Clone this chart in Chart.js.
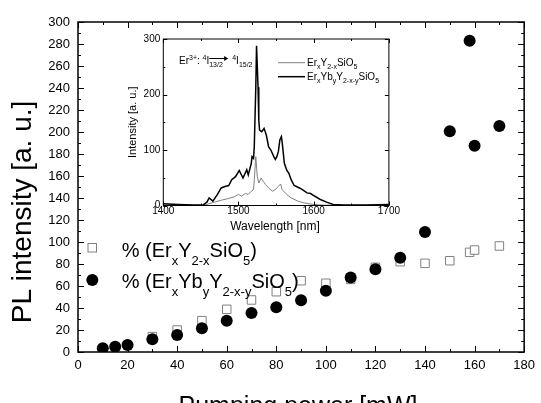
<!DOCTYPE html>
<html>
<head>
<meta charset="utf-8">
<script src="https://cdn.jsdelivr.net/npm/chart.js@4.4.0/dist/chart.umd.min.js"></script>
<style>
  body { margin: 0; background: #fff; }
  #wrap { position: relative; width: 541px; height: 403px; overflow: hidden; }
  #mainChart { position: absolute; left: 0; top: 0; }
  #insetChart { position: absolute; left: 110px; top: 30px; }
</style>
</head>
<body>
<div id="wrap">
  <canvas id="mainChart" width="541" height="403"></canvas>
  <canvas id="insetChart" width="290" height="240"></canvas>
</div>
<script>
// Main data: PL intensity vs pumping power
const powerErY = [30, 40, 50, 60, 70, 80, 90, 100, 110, 120, 130, 140, 150, 158, 160, 170];
const intensityErY = [14, 20, 28.5, 38.8, 47.3, 54.8, 64.8, 62.5, 66, 77, 82.1, 80.6, 83, 90.6, 92.7, 96.4];
const powerErYb = [10, 15, 20, 30, 40, 50, 60, 70, 80, 90, 100, 110, 120, 130, 140, 150, 158, 160, 170];
const intensityErYb = [3.4, 4.8, 6.4, 11.5, 15.5, 21.5, 28.5, 35.5, 40.6, 47, 55.6, 67.7, 75.2, 85.6, 109, 200.6, 283, 187.6, 205.5];
const powerTicks = [0, 20, 40, 60, 80, 100, 120, 140, 160, 180];
const intensityTicks = [0, 20, 40, 60, 80, 100, 120, 140, 160, 180, 200, 220, 240, 260, 280, 300];

// Inset data: PL spectra
const wlErYb = [1400, 1420, 1440, 1453, 1458, 1461, 1466, 1472, 1477, 1483, 1487, 1491, 1496, 1501, 1504, 1506, 1511, 1513, 1517, 1518, 1520, 1521, 1523, 1524, 1526, 1527, 1528, 1531, 1534, 1537, 1540, 1543, 1547, 1549, 1551, 1553, 1555, 1557, 1558, 1561, 1564, 1567, 1570, 1574, 1581, 1585, 1591, 1596, 1600, 1609, 1617, 1626, 1640, 1670, 1700];
const specErYb = [3, 2, 1, 1, 6, 13.7, 8, 20, 31.6, 34.6, 36, 46.5, 52, 63, 55, 49.5, 64.4, 55, 76, 88, 85, 106, 213, 288, 213, 154, 136, 133, 139, 127, 106, 100, 88, 83, 88, 97, 118, 124, 115, 76, 64, 58, 46.5, 36, 31.6, 28.6, 22.7, 21.5, 18, 10.7, 6, 2, 1, 1, 2];
const wlErY = [1400, 1455, 1460, 1468, 1477, 1485, 1494, 1500, 1504, 1509, 1513, 1517, 1520, 1521, 1523, 1525, 1527, 1530, 1533, 1536, 1540, 1545, 1549, 1553, 1556, 1558, 1564, 1570, 1579, 1587, 1600, 1613, 1630, 1700];
const specErY = [0.5, 0.5, 3, 6, 9.5, 12, 15.5, 20, 17, 21.5, 20, 25.6, 28.6, 46.5, 88, 52, 40.5, 49.5, 43.5, 37.6, 31.6, 25.6, 28.6, 34.6, 38.8, 28.6, 20, 13.7, 7.8, 4.8, 1.8, 0.6, 0.3, 0.3];
const wlTicks = [1400, 1500, 1600, 1700];
const specTicks = [0, 100, 200, 300];

const FONT = "'Liberation Sans', Arial, sans-serif";
Chart.defaults.font.family = FONT;
Chart.defaults.color = '#000';

function toXY(xs, ys) {
    return xs.map((x, i) => ({ x: x, y: ys[i] }));
}

function fixedTicks(values) {
    return function(scale) {
        scale.ticks = values.map(v => ({ value: v }));
    };
}

const plainLabel = v => String(v);

// text with sub/superscripts, parts = [[text, 'n'|'sub'|'sup'], ...]
function drawRich(ctx, x, y, parts, size, smallSize, subDy, supDy) {
    parts.forEach(([text, kind]) => {
        ctx.font = (kind === 'n' ? size : smallSize) + 'px ' + FONT;
        const dy = kind === 'sub' ? subDy : (kind === 'sup' ? -supDy : 0);
        ctx.fillText(text, x, y + dy);
        x += ctx.measureText(text).width;
    });
    return x;
}

// frame plus inward ticks on all four sides
function drawFrame(chart, o) {
    const ctx = chart.ctx;
    const { left, right, top, bottom } = chart.chartArea;
    const xs = chart.scales.x, ys = chart.scales.y;
    ctx.save();
    ctx.strokeStyle = '#000';
    ctx.lineWidth = 1;
    ctx.beginPath();
    for (let v = xs.min; v <= xs.max + 1e-6; v += o.xMinor) {
        const px = Math.round(xs.getPixelForValue(v)) + 0.5;
        const len = Math.abs(v % o.xMajor) < 1e-6 ? o.major : o.minor;
        ctx.moveTo(px, bottom); ctx.lineTo(px, bottom - len);
        ctx.moveTo(px, top); ctx.lineTo(px, top + len);
    }
    for (let v = ys.min; v <= ys.max + 1e-6; v += o.yMinor) {
        const py = Math.round(ys.getPixelForValue(v)) + 0.5;
        const len = Math.abs(v % o.yMajor) < 1e-6 ? o.major : o.minor;
        ctx.moveTo(left, py); ctx.lineTo(left + len, py);
        ctx.moveTo(right, py); ctx.lineTo(right - len, py);
    }
    ctx.stroke();
    ctx.lineWidth = o.frameWidth;
    ctx.strokeRect(left, top, right - left, bottom - top);
    ctx.restore();
}

const mainDecor = {
    id: 'mainDecor',
    afterDraw(chart) {
        const ctx = chart.ctx;
        drawFrame(chart, { xMajor: 20, xMinor: 10, yMajor: 20, yMinor: 10, major: 6, minor: 3, frameWidth: 1.5 });

        ctx.save();
        ctx.fillStyle = '#000';
        ctx.textBaseline = 'alphabetic';

        // axis titles
        ctx.font = '25px ' + FONT;
        ctx.textAlign = 'center';
        ctx.fillText('Pumping power [mW]', 298, 414);
        ctx.save();
        ctx.translate(31, 212);
        ctx.rotate(-Math.PI / 2);
        ctx.font = '28px ' + FONT;
        ctx.fillText('PL intensity [a. u.]', 0, 0);
        ctx.restore();

        // legend
        ctx.textAlign = 'left';
        ctx.strokeStyle = '#808080';
        ctx.lineWidth = 1;
        ctx.fillStyle = '#fff';
        ctx.fillRect(88, 243.5, 8.5, 8.5);
        ctx.strokeRect(88, 243.5, 8.5, 8.5);
        ctx.fillStyle = '#000';
        ctx.beginPath();
        ctx.arc(92.3, 280, 6, 0, Math.PI * 2);
        ctx.fill();

        drawRich(ctx, 121.7, 256.7, [['% (Er', 'n'], ['x', 'sub'], ['Y', 'n'], ['2-x', 'sub'], ['SiO', 'n'], ['5', 'sub'], [')', 'n']], 20, 13, 8, 0);
        drawRich(ctx, 121.7, 288.3, [['% (Er', 'n'], ['x', 'sub'], ['Yb', 'n'], ['y', 'sub'], ['Y', 'n'], ['2-x-y', 'sub'], ['SiO', 'n'], ['5', 'sub'], [')', 'n']], 20, 13, 8, 0);
        ctx.restore();
    }
};

new Chart(document.getElementById('mainChart'), {
    type: 'scatter',
    data: {
        datasets: [{
            label: 'ErxYbyY2-x-ySiO5',
            data: toXY(powerErYb, intensityErYb),
            pointStyle: 'circle',
            pointRadius: 6,
            backgroundColor: '#000',
            borderColor: '#000',
            borderWidth: 0
        }, {
            label: 'ErxY2-xSiO5',
            data: toXY(powerErY, intensityErY),
            pointStyle: 'rect',
            pointRadius: 6,
            backgroundColor: '#fff',
            borderColor: '#808080',
            borderWidth: 1
        }]
    },
    options: {
        responsive: false,
        animation: false,
        events: [],
        layout: { padding: { top: 22, right: 13, left: 0, bottom: 0 } },
        plugins: { legend: { display: false }, tooltip: { enabled: false } },
        scales: {
            x: {
                type: 'linear',
                min: 0,
                max: 180,
                afterBuildTicks: fixedTicks(powerTicks),
                afterFit: s => { s.height = 51; },
                grid: { display: false, drawTicks: false },
                border: { display: false },
                ticks: { font: { size: 13 }, padding: 6, maxRotation: 0, callback: plainLabel }
            },
            y: {
                type: 'linear',
                min: 0,
                max: 300,
                afterBuildTicks: fixedTicks(intensityTicks),
                afterFit: s => { s.width = 78; },
                grid: { display: false, drawTicks: false },
                border: { display: false },
                ticks: { font: { size: 13 }, padding: 8, callback: plainLabel }
            }
        }
    },
    plugins: [mainDecor]
});

const insetDecor = {
    id: 'insetDecor',
    afterDraw(chart) {
        const ctx = chart.ctx;
        drawFrame(chart, { xMajor: 100, xMinor: 50, yMajor: 100, yMinor: 50, major: 4, minor: 2, frameWidth: 1 });
        const { top, bottom } = chart.chartArea;

        ctx.save();
        ctx.fillStyle = '#000';
        ctx.textBaseline = 'alphabetic';
        ctx.textAlign = 'center';
        ctx.font = '12px ' + FONT;
        ctx.fillText('Wavelength [nm]', 165, 200);
        ctx.save();
        ctx.translate(26, (top + bottom) / 2);
        ctx.rotate(-Math.PI / 2);
        ctx.font = '11px ' + FONT;
        ctx.fillText('Intensity [a. u.]', 0, 0);
        ctx.restore();

        // transition label
        ctx.textAlign = 'left';
        let x = drawRich(ctx, 69, 33.5, [['Er', 'n'], ['3+', 'sup'], [': ', 'n'], ['4', 'sup'], ['I', 'n']], 10, 7, 3, 4);
        ctx.font = '7px ' + FONT;
        ctx.fillText('13/2', x, 36.5);
        const arrowEnd = x + 19;
        ctx.strokeStyle = '#000';
        ctx.lineWidth = 1;
        ctx.beginPath();
        ctx.moveTo(x, 28.5);
        ctx.lineTo(arrowEnd - 3, 28.5);
        ctx.stroke();
        ctx.beginPath();
        ctx.moveTo(arrowEnd, 28.5);
        ctx.lineTo(arrowEnd - 4, 26);
        ctx.lineTo(arrowEnd - 4, 31);
        ctx.closePath();
        ctx.fill();
        drawRich(ctx, arrowEnd + 4, 33.5, [['4', 'sup'], ['I', 'n'], ['15/2', 'sub']], 10, 7, 3, 4);

        // legend
        ctx.lineWidth = 1;
        ctx.strokeStyle = '#808080';
        ctx.beginPath();
        ctx.moveTo(168, 32.7); ctx.lineTo(195, 32.7);
        ctx.stroke();
        ctx.strokeStyle = '#000';
        ctx.lineWidth = 1.5;
        ctx.beginPath();
        ctx.moveTo(168, 46.7); ctx.lineTo(195, 46.7);
        ctx.stroke();
        drawRich(ctx, 197, 36.2, [['Er', 'n'], ['x', 'sub'], ['Y', 'n'], ['2-x', 'sub'], ['SiO', 'n'], ['5', 'sub']], 10, 7, 3, 0);
        drawRich(ctx, 197, 50.2, [['Er', 'n'], ['x', 'sub'], ['Yb', 'n'], ['y', 'sub'], ['Y', 'n'], ['2-x-y', 'sub'], ['SiO', 'n'], ['5', 'sub']], 10, 7, 3, 0);
        ctx.restore();
    }
};

new Chart(document.getElementById('insetChart'), {
    type: 'line',
    data: {
        datasets: [{
            label: 'ErxYbyY2-x-ySiO5',
            data: toXY(wlErYb, specErYb),
            borderColor: '#000',
            borderWidth: 1.5,
            pointRadius: 0,
            tension: 0,
            fill: false
        }, {
            label: 'ErxY2-xSiO5',
            data: toXY(wlErY, specErY),
            borderColor: '#808080',
            borderWidth: 1,
            pointRadius: 0,
            tension: 0,
            fill: false
        }]
    },
    options: {
        responsive: false,
        animation: false,
        events: [],
        layout: { padding: { top: 7.5, right: 9, left: 0, bottom: 0 } },
        plugins: { legend: { display: false }, tooltip: { enabled: false } },
        scales: {
            x: {
                type: 'linear',
                min: 1400,
                max: 1700,
                afterBuildTicks: fixedTicks(wlTicks),
                afterFit: s => { s.height = 64.5; },
                grid: { display: false, drawTicks: false },
                border: { display: false },
                ticks: { font: { size: 10 }, padding: 0, maxRotation: 0, callback: plainLabel }
            },
            y: {
                type: 'linear',
                min: 0,
                max: 300,
                afterBuildTicks: fixedTicks(specTicks),
                afterFit: s => { s.width = 53.3; },
                grid: { display: false, drawTicks: false },
                border: { display: false },
                ticks: { font: { size: 10 }, padding: 3, callback: plainLabel }
            }
        }
    },
    plugins: [insetDecor]
});
</script>
</body>
</html>
